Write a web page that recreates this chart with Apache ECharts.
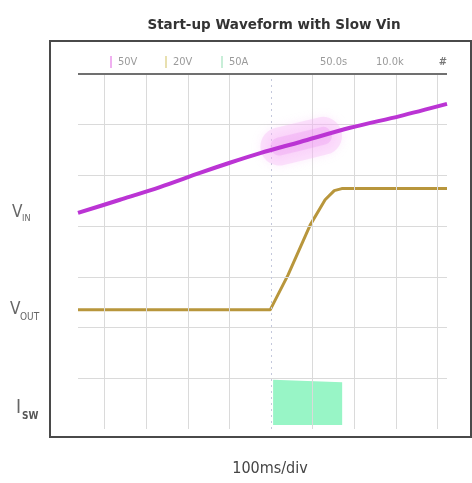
<!DOCTYPE html>
<html>
<head>
<meta charset="utf-8">
<script src="https://cdn.jsdelivr.net/npm/echarts@6/dist/echarts.min.js"></script>
<style>
html,body{margin:0;padding:0;background:#fff;}
#c{width:472px;height:483px;}
</style>
</head>
<body>
<div id="c"></div>
<script>
// time in ms relative to trigger (100 ms/div); amplitude in screen divisions
var titleText = 'Start-up Waveform with Slow Vin';
var timeLabel = '100ms/div';
var headerItems = ['50V', '20V', '50A', '50.0s', '10.0k', '#'];
var channelLabels = [['V', 'IN'], ['V', 'OUT'], ['I', 'SW']];

var gridCols = [-400, -300, -200, -100, 100, 200, 300, 400];
var gridRows = [1, 2, 3, 4, 5, 6];

var vinTime = [-464, -363, -267, -171, -99, -26, 70, 190, 310, 423];
var vinVal  = [4.26, 4.52, 4.77, 5.05, 5.25, 5.44, 5.66, 5.94, 6.17, 6.41];

var noiseTime = [20, 70, 125];
var noiseVal  = [5.57, 5.67, 5.78];

var voutTime = [-464, -2, 41, 94, 130, 152, 170, 423];
var voutVal  = [2.35, 2.35, 3.04, 4.02, 4.52, 4.70, 4.74, 4.74];

var iswTime = [5, 171];
var iswVal  = [0.97, 0.92];
var iswBase = 0.08;

function pairs(xs, ys) { return xs.map(function (x, i) { return [x, ys[i]]; }); }

var chart = echarts.init(document.getElementById('c'), null, {renderer: 'canvas'});

var gridLines = gridCols.map(function (v) { return {xAxis: v}; })
  .concat(gridRows.map(function (v) { return {yAxis: v}; }));

var option = {
  animation: false,
  backgroundColor: '#ffffff',
  title: {
    text: titleText,
    left: 269, top: 13, textAlign: 'center',
    textStyle: {fontFamily: 'DejaVu Sans', fontWeight: 'bold', fontSize: 13.5, color: '#333'}
  },
  grid: {left: 78, right: 25, top: 74, bottom: 54},
  xAxis: {type: 'value', min: -464, max: 423, show: false, splitLine: {show: false}},
  yAxis: {type: 'value', min: 0, max: 7, show: false, splitLine: {show: false}},
  graphic: [
    {type: 'rect', shape: {x: 50, y: 41, width: 421, height: 396},
     style: {fill: 'none', stroke: '#4a4a4a', lineWidth: 2}, z: 100},
    {type: 'text', x: 270, y: 469, style: {text: timeLabel, fill: '#444', font: '16px "DejaVu Sans Condensed", "DejaVu Sans"', textAlign: 'center', textVerticalAlign: 'middle'}},
    // header readouts
    {type: 'rect', shape: {x: 110, y: 56, width: 2, height: 12}, style: {fill: '#f0b0f0'}},
    {type: 'text', x: 118, y: 62, style: {text: headerItems[0], fill: '#9a9a9a', font: '11px "DejaVu Sans Condensed"', textVerticalAlign: 'middle'}},
    {type: 'rect', shape: {x: 165, y: 56, width: 2, height: 12}, style: {fill: '#e8e0b0'}},
    {type: 'text', x: 173, y: 62, style: {text: headerItems[1], fill: '#9a9a9a', font: '11px "DejaVu Sans Condensed"', textVerticalAlign: 'middle'}},
    {type: 'rect', shape: {x: 221, y: 56, width: 2, height: 12}, style: {fill: '#c8eed8'}},
    {type: 'text', x: 229, y: 62, style: {text: headerItems[2], fill: '#9a9a9a', font: '11px "DejaVu Sans Condensed"', textVerticalAlign: 'middle'}},
    {type: 'text', x: 320, y: 62, style: {text: headerItems[3], fill: '#9a9a9a', font: '11px "DejaVu Sans Condensed"', textVerticalAlign: 'middle'}},
    {type: 'text', x: 376, y: 62, style: {text: headerItems[4], fill: '#9a9a9a', font: '11px "DejaVu Sans Condensed"', textVerticalAlign: 'middle'}},
    {type: 'text', x: 443, y: 62, style: {text: headerItems[5], fill: '#777', font: 'bold 11px "DejaVu Sans Condensed"', textAlign: 'center', textVerticalAlign: 'middle'}},
    // channel labels
    {type: 'text', x: 12, y: 213, style: {text: channelLabels[0][0], fill: '#666', font: '17px "Liberation Sans Narrow", "DejaVu Sans Condensed"', textVerticalAlign: 'middle'}},
    {type: 'text', x: 22, y: 219, style: {text: channelLabels[0][1], fill: '#666', font: '9px "Liberation Sans Narrow", "DejaVu Sans Condensed"', textVerticalAlign: 'middle'}},
    {type: 'text', x: 10, y: 310, style: {text: channelLabels[1][0], fill: '#666', font: '17px "Liberation Sans Narrow", "DejaVu Sans Condensed"', textVerticalAlign: 'middle'}},
    {type: 'text', x: 20, y: 317, style: {text: channelLabels[1][1], fill: '#666', font: '10px "Liberation Sans Narrow", "DejaVu Sans Condensed"', textVerticalAlign: 'middle'}},
    {type: 'text', x: 16, y: 408, style: {text: channelLabels[2][0], fill: '#666', font: '19px "Liberation Sans Narrow", "DejaVu Sans Condensed"', textVerticalAlign: 'middle'}},
    {type: 'text', x: 22, y: 416, style: {text: channelLabels[2][1], fill: '#555', font: 'bold 10px "Liberation Sans Narrow", "DejaVu Sans Condensed"', textVerticalAlign: 'middle'}}
  ],
  series: [
    {
      type: 'line', data: [], silent: true,
      markLine: {
        silent: true, symbol: ['none', 'none'], label: {show: false},
        lineStyle: {color: '#dadada', width: 1, type: 'solid'},
        data: gridLines.concat([
          {xAxis: 0, lineStyle: {color: '#c4c8dc', type: [2, 4], width: 1}},
          {yAxis: 7, lineStyle: {color: '#707070', width: 2, type: 'solid'}}
        ])
      }
    },
    {
      name: 'ISW', type: 'line', data: pairs(iswTime, iswVal), symbol: 'none',
      lineStyle: {width: 0}, areaStyle: {color: '#98f5c6', opacity: 1, origin: iswBase}, z: 3
    },
    {
      name: 'VOUT', type: 'line', data: pairs(voutTime, voutVal), symbol: 'none',
      lineStyle: {color: '#b8963c', width: 3, join: 'round'}, z: 4
    },
    {
      name: 'noise-wide', type: 'line', data: pairs(noiseTime, noiseVal), symbol: 'none',
      lineStyle: {color: 'rgba(245,180,245,0.35)', width: 38, cap: 'round',
                  shadowBlur: 10, shadowColor: 'rgba(245,170,245,0.6)'}, z: 5
    },
    {
      name: 'noise', type: 'line', data: pairs(noiseTime, noiseVal), symbol: 'none',
      lineStyle: {color: 'rgba(235,140,240,0.28)', width: 18, cap: 'round',
                  shadowBlur: 6, shadowColor: 'rgba(235,140,240,0.4)'}, z: 5
    },
    {
      name: 'VIN', type: 'line', data: pairs(vinTime, vinVal), symbol: 'none', smooth: 0.3,
      lineStyle: {color: '#bb34d4', width: 4}, z: 6
    }
  ]
};
chart.setOption(option);
</script>
</body>
</html>
